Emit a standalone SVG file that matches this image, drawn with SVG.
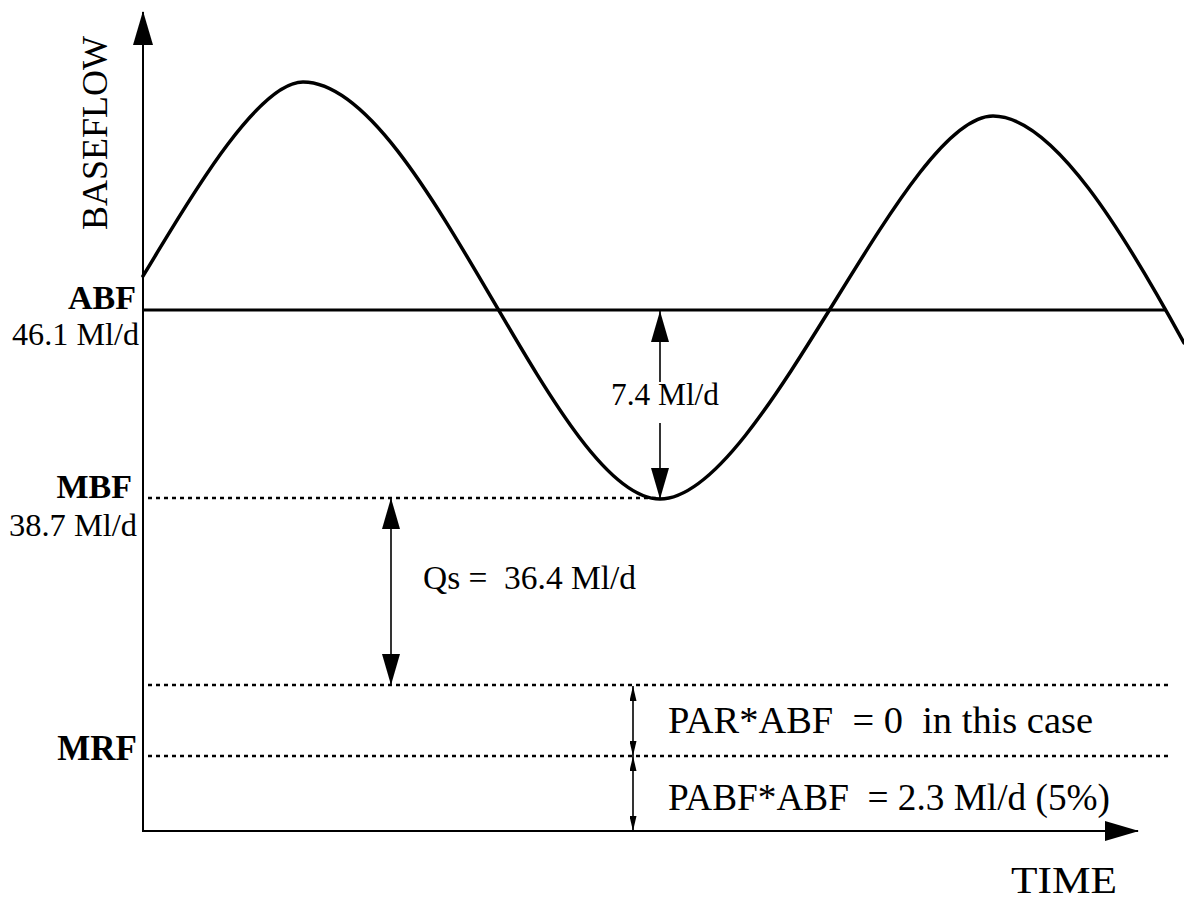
<svg xmlns="http://www.w3.org/2000/svg" width="1184" height="913" viewBox="0 0 1184 913">
<style>
.txt{font-family:"Liberation Serif","Times New Roman",serif;fill:#000;white-space:pre}
.b{font-weight:bold}
.axis{stroke:#000;stroke-width:2;fill:none}
.curve{stroke:#000;stroke-width:3.5;fill:none;stroke-linecap:round}
.solid{stroke:#000;stroke-width:3;fill:none}
.dot{stroke:#000;stroke-width:2.5;fill:none;stroke-dasharray:4 4}
.arr{stroke:#000;stroke-width:1.6;fill:none}
</style>
<defs>
<marker id="axhead" viewBox="0 0 34 20" refX="33" refY="10" markerWidth="34" markerHeight="20" markerUnits="userSpaceOnUse" orient="auto"><path d="M0,0 L34,10 L0,20 Z" fill="#000"/></marker>
<marker id="big" viewBox="0 0 31 18" refX="31" refY="9" markerWidth="31" markerHeight="18" markerUnits="userSpaceOnUse" orient="auto-start-reverse"><path d="M0,0 L31,9 L0,18 Z" fill="#000"/></marker>
<marker id="small" viewBox="0 0 15 7" refX="15" refY="3.5" markerWidth="15" markerHeight="7" markerUnits="userSpaceOnUse" orient="auto-start-reverse"><path d="M0,0 L15,3.5 L0,7 Z" fill="#000"/></marker>
</defs>
<rect width="1184" height="913" fill="#fff"/>
<g id="axes">
<line class="axis" x1="143" y1="832" x2="143" y2="12" marker-end="url(#axhead)"/>
<line class="axis" x1="142" y1="831" x2="1138" y2="831" marker-end="url(#axhead)"/>
</g>
<g id="levels">
<line class="solid" x1="143" y1="310" x2="1166" y2="310"/>
<line class="dot" x1="148" y1="498" x2="660" y2="498"/>
<line class="dot" x1="148" y1="685" x2="1170" y2="685"/>
<line class="dot" x1="148" y1="756" x2="1170" y2="756"/>
</g>
<g id="baseflow-curve">
<path class="curve" d="M143,276 C173,228 253,82 303,82 C423,82 555,499 660,499 C762,499 903,116 993,116 C1053,116 1124,233 1184,343"/>
</g>
<g id="connectors">
<line class="arr" x1="660" y1="382" x2="660" y2="311" marker-end="url(#big)"/>
<line class="arr" x1="660" y1="423" x2="660" y2="499" marker-end="url(#big)"/>
<line class="arr" x1="391" y1="498" x2="391" y2="685" marker-start="url(#big)" marker-end="url(#big)"/>
<line class="arr" x1="633" y1="686" x2="633" y2="756" marker-start="url(#small)" marker-end="url(#small)"/>
<line class="arr" x1="633" y1="756" x2="633" y2="831" marker-start="url(#small)" marker-end="url(#small)"/>
</g>
<g id="axis-labels">
<text class="txt" font-size="36" text-anchor="middle" transform="translate(107,133) rotate(-90)" textLength="194" lengthAdjust="spacingAndGlyphs">BASEFLOW</text>
<text class="txt" font-size="38" x="1011" y="893" textLength="106" lengthAdjust="spacingAndGlyphs">TIME</text>
</g>
<g id="label-abf">
<text class="txt b" font-size="34" x="136" y="309" text-anchor="end">ABF</text>
<text class="txt" font-size="31" x="139" y="345" text-anchor="end" textLength="127" lengthAdjust="spacingAndGlyphs">46.1 Ml/d</text>
</g>
<g id="label-mbf">
<text class="txt b" font-size="34" x="132" y="498" text-anchor="end">MBF</text>
<text class="txt" font-size="31" x="137" y="536" text-anchor="end" textLength="128" lengthAdjust="spacingAndGlyphs">38.7 Ml/d</text>
</g>
<g id="label-mrf">
<text class="txt b" font-size="35" x="137" y="760" text-anchor="end">MRF</text>
</g>
<g id="label-deficit">
<text class="txt" font-size="32" x="611" y="405" textLength="108" lengthAdjust="spacingAndGlyphs">7.4 Ml/d</text>
</g>
<g id="label-qs">
<text class="txt" font-size="33" x="423" y="589" textLength="213" lengthAdjust="spacingAndGlyphs">Qs =  36.4 Ml/d</text>
</g>
<g id="label-par">
<text class="txt" font-size="38" x="668" y="733" textLength="425" lengthAdjust="spacingAndGlyphs">PAR*ABF  = 0  in this case</text>
</g>
<g id="label-pabf">
<text class="txt" font-size="38" x="668" y="810" textLength="442" lengthAdjust="spacingAndGlyphs">PABF*ABF  = 2.3 Ml/d (5%)</text>
</g>
</svg>
